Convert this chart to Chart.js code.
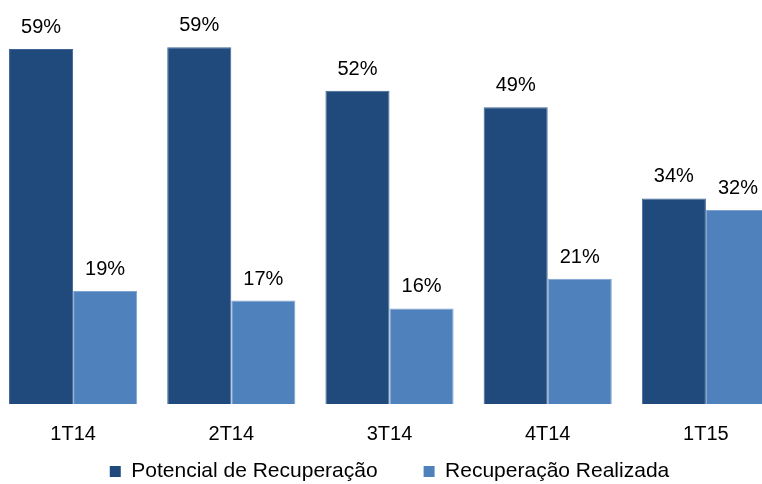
<!DOCTYPE html>
<html lang="pt">
<head>
    <meta charset="UTF-8">
    <title>Potencial de Recuperação</title>
    <script src="https://cdn.jsdelivr.net/npm/chart.js@4.4.1/dist/chart.umd.min.js"></script>
    <style>
        html, body { margin: 0; padding: 0; background: #fff; overflow: hidden; width: 762px; height: 484px; }
        .chart-wrap { position: absolute; left: -6px; top: 0; width: 791px; height: 492px; }
    </style>
</head>
<body>
    <div class="chart-wrap">
        <canvas id="recChart"></canvas>
    </div>
    <script>
    // data
    const categories = ['1T14', '2T14', '3T14', '4T14', '1T15'];
    const potencial = [58.7, 59.0, 51.8, 49.1, 34.0];
    const realizada = [18.7, 17.1, 15.8, 20.7, 32.1];
    const seriesNames = ['Potencial de Recuperação', 'Recuperação Realizada'];

    const FONT = "'Liberation Sans', Arial, sans-serif";

    // value labels above each bar
    const barLabels = {
        id: 'barLabels',
        afterDatasetsDraw(chart) {
            const ctx = chart.ctx;
            ctx.save();
            ctx.font = '20px ' + FONT;
            ctx.fillStyle = '#000';
            ctx.textAlign = 'center';
            ctx.textBaseline = 'alphabetic';
            chart.data.datasets.forEach(function(ds, i) {
                chart.getDatasetMeta(i).data.forEach(function(bar, j) {
                    ctx.fillText(Math.round(ds.data[j]) + '%', bar.x, bar.y - 16);
                });
            });
            ctx.restore();
        }
    };

    document.addEventListener('DOMContentLoaded', function() {
        const ctx = document.getElementById('recChart').getContext('2d');
        new Chart(ctx, {
            type: 'bar',
            data: {
                labels: categories,
                datasets: [{
                    label: seriesNames[0],
                    data: potencial,
                    backgroundColor: '#204A7C',
                    borderColor: '#3F6594',
                    borderWidth: 1
                }, {
                    label: seriesNames[1],
                    data: realizada,
                    backgroundColor: '#4F81BD',
                    borderColor: '#7FA2D1',
                    borderWidth: 1
                }]
            },
            options: {
                responsive: true,
                maintainAspectRatio: false,
                animation: false,
                layout: { padding: { top: 11, left: 0, right: 0, bottom: 0 } },
                datasets: {
                    bar: { categoryPercentage: 0.81, barPercentage: 1.0 }
                },
                plugins: {
                    legend: {
                        position: 'bottom',
                        labels: {
                            boxWidth: 11,
                            boxHeight: 11,
                            padding: 46,
                            color: '#000',
                            font: { family: FONT, size: 21 },
                            generateLabels: function(chart) {
                                return Chart.defaults.plugins.legend.labels.generateLabels(chart).map(function(item) {
                                    item.lineWidth = 0;
                                    return item;
                                });
                            }
                        }
                    },
                    tooltip: { enabled: false }
                },
                scales: {
                    x: {
                        grid: { display: false, drawTicks: false },
                        border: { display: false },
                        // mirror avoids the label clip box; negative padding pushes labels below the bars
                        ticks: { mirror: true, color: '#000', padding: -42, font: { family: FONT, size: 20 } },
                        afterFit: function(scale) { scale.height = 11; }
                    },
                    y: {
                        display: false,
                        min: 0,
                        max: 65
                    }
                }
            },
            plugins: [barLabels]
        });
    });
    </script>
</body>
</html>
